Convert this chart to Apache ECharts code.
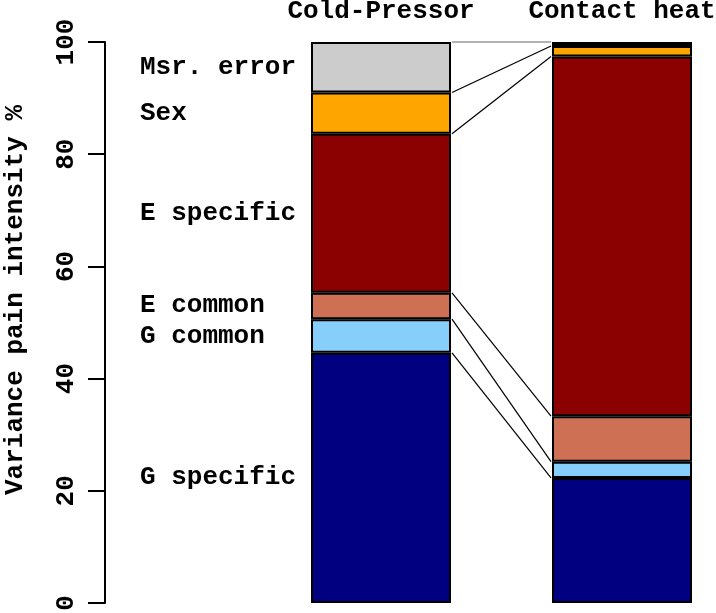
<!DOCTYPE html>
<html>
<head>
<meta charset="utf-8">
<script src="https://cdn.jsdelivr.net/npm/echarts@6/dist/echarts.min.js"></script>
<style>
html,body{margin:0;padding:0;background:#fff;}
#chart{width:716px;height:613px;}
</style>
</head>
<body>
<div id="chart"></div>
<script>
// ---- data ----
var conditions = ['Cold-Pressor', 'Contact heat'];
var components = ['G specific', 'G common', 'E common', 'E specific', 'Sex', 'Msr. error'];
var coldPressor = [44.6, 6.0, 4.7, 28.35, 7.35, 9.0];
var contactHeat = [22.3, 2.9, 8.1, 64.1, 1.9, 0.7];
var yTicks = [0, 20, 40, 60, 80, 100];
var colors = ['#000080', '#87CEFA', '#CD7054', '#8B0000', '#FFA500', '#CCCCCC'];

var FAMILY = '"Nimbus Mono PS", "Nimbus Mono L", "Courier 10 Pitch", "Liberation Mono", monospace';
var FONT = 'bold 26px ' + FAMILY;
var TXT = { fontFamily: FAMILY, fontWeight: 'bold', fontSize: 26, color: '#000' };
var BAR_W = 140;

function cumulative(arr) {
  var out = [], s = 0;
  for (var i = 0; i < arr.length; i++) { s += arr[i]; out.push(s); }
  return out;
}
var cumCP = cumulative(coldPressor);
var cumCH = cumulative(contactHeat);

var series = components.map(function (name, i) {
  return {
    name: name,
    type: 'bar',
    stack: 'total',
    barWidth: BAR_W,
    data: [coldPressor[i], contactHeat[i]],
    itemStyle: { color: colors[i], borderColor: '#000', borderWidth: 2 },
    emphasis: { disabled: true }
  };
});

// connecting lines between boundaries
var linkData = cumCP.map(function (v, i) { return [0, v, 1, cumCH[i], i]; });
series.push({
  type: 'custom',
  clip: false,
  silent: true,
  z: 5,
  encode: { x: 0, y: 1 },
  data: linkData,
  renderItem: function (params, api) {
    var p1 = api.coord([api.value(0), api.value(1)]);
    var p2 = api.coord([api.value(2), api.value(3)]);
    var isTop = api.value(4) === components.length - 1;
    return {
      type: 'line',
      shape: { x1: p1[0] + BAR_W / 2 + 1, y1: p1[1], x2: p2[0] - BAR_W / 2 - 1, y2: p2[1] },
      style: { stroke: isTop ? '#666' : '#000', lineWidth: 1.2 }
    };
  }
});

// component labels at the middle of each Cold-Pressor segment
var labelData = coldPressor.map(function (v, i) { return [0, cumCP[i] - v / 2, i]; });
series.push({
  type: 'custom',
  clip: false,
  silent: true,
  encode: { x: 0, y: 1 },
  data: labelData,
  renderItem: function (params, api) {
    var p = api.coord([api.value(0), api.value(1)]);
    return {
      type: 'text',
      x: p[0] - 241,
      y: p[1],
      style: { text: components[api.value(2)], font: FONT, fill: '#000', align: 'left', verticalAlign: 'middle' }
    };
  }
});

var chart = echarts.init(document.getElementById('chart'), null, { renderer: 'canvas' });
chart.setOption({
  animation: false,
  backgroundColor: '#fff',
  grid: { left: 260.5, width: 482, top: 42, bottom: 10, containLabel: false, outerBoundsMode: 'none' },
  xAxis: {
    type: 'category',
    position: 'top',
    data: conditions,
    axisLine: { show: false },
    axisTick: { show: false },
    axisLabel: Object.assign({ margin: 18, interval: 0, hideOverlap: false }, TXT)
  },
  yAxis: {
    type: 'value',
    min: 0, max: 100, interval: 20,
    offset: 155.5,
    axisLine: { show: true, lineStyle: { color: '#000', width: 2 } },
    axisTick: { show: true, length: 17, lineStyle: { color: '#000', width: 2 } },
    splitLine: { show: false },
    axisLabel: Object.assign({
      rotate: 90, margin: 26,
      formatter: function (v) { return yTicks.indexOf(v) >= 0 ? String(v) : ''; }
    }, TXT)
  },
  graphic: [{
    type: 'text',
    x: 15, y: 300,
    rotation: Math.PI / 2,
    style: { text: 'Variance pain intensity %', font: FONT, fill: '#000', align: 'center', verticalAlign: 'middle' }
  }],
  series: series
});
</script>
</body>
</html>
